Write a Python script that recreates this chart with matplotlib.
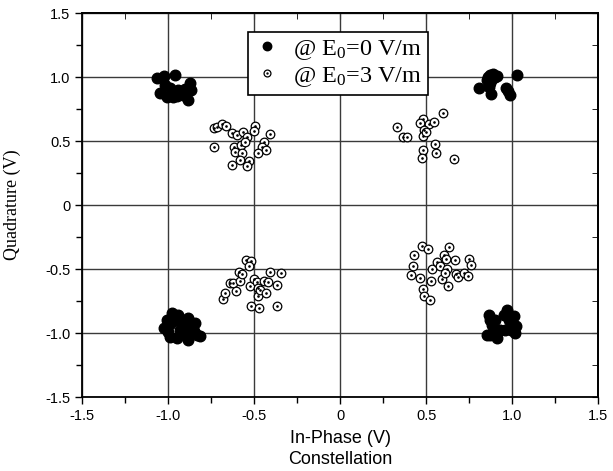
import matplotlib
matplotlib.use("Agg")
import matplotlib.pyplot as plt
from matplotlib.ticker import MultipleLocator, FuncFormatter
from matplotlib.legend_handler import HandlerTuple

plt.rcParams['axes.unicode_minus'] = False
plt.rcParams['mathtext.fontset'] = 'custom'
plt.rcParams['mathtext.rm'] = 'Liberation Serif'
plt.rcParams['mathtext.default'] = 'regular'

# E0 = 0 V/m (filled)
e0_x = [-1.066, -1.027, -0.959, -0.876, -1.047, -1.008, -0.969, -0.911, -0.882, -0.988,
        -1.017, -0.940, -0.901, -0.950, -0.925, -0.870,
        0.804, 0.853, 0.872, 0.888, 0.911, 0.862, 0.876, 0.965, 0.984, 1.027, 0.901, 0.857, 0.870,
        0.880, 0.975,
        -1.027, -1.008, -0.979, -0.988, -0.959, -0.930, -0.901, -0.882, -0.872, -0.882, -0.843,
        -0.833, -0.814, -0.949, -0.920, -0.862, -0.990, -0.940, -0.900, -0.850, -1.000,
        0.866, 0.872, 0.882, 0.911, 0.930, 0.969, 0.979, 1.008, 1.023, 1.017, 0.959, 0.901,
        0.853, 0.990, 0.870, 0.995, 0.950, 0.890]
e0_y = [0.995, 1.010, 1.017, 0.951, 0.873, 0.848, 0.848, 0.861, 0.822, 0.913,
        0.939, 0.900, 0.905, 0.850, 0.880, 0.900,
        0.914, 0.979, 1.018, 1.026, 1.010, 0.927, 0.870, 0.914, 0.862, 1.020, 1.000, 1.000, 0.955,
        0.985, 0.890,
        -0.961, -0.896, -0.844, -1.027, -0.896, -0.974, -0.922, -0.883, -1.000, -1.052, -0.922,
        -1.013, -1.021, -1.039, -0.948, -0.961, -0.930, -0.860, -1.010, -0.985, -0.990,
        -0.857, -1.013, -0.935, -1.039, -0.974, -0.823, -0.896, -0.870, -0.943, -1.000, -0.974, -0.896,
        -1.013, -0.974, -0.900, -0.920, -0.860, -0.990]

# E0 = 3 V/m (open)
e3_x = [-0.733, -0.717, -0.688, -0.665, -0.630, -0.601, -0.566, -0.543, -0.498, -0.500,
        -0.411, -0.733, -0.620, -0.610, -0.576, -0.552, -0.442, -0.455, -0.432, -0.475,
        -0.572, -0.581, -0.533, -0.630, -0.543,
        0.329, 0.364, 0.388, 0.481, 0.465, 0.514, 0.548, 0.488, 0.484, 0.597, 0.552,
        0.556, 0.479, 0.475, 0.659, 0.500,
        -0.682, -0.669, -0.640, -0.626, -0.607, -0.581, -0.591, -0.572, -0.547, -0.519,
        -0.529, -0.523, -0.504, -0.484, -0.475, -0.479, -0.465, -0.434, -0.442, -0.417,
        -0.407, -0.368, -0.345, -0.517, -0.471, -0.365,
        0.426, 0.423, 0.413, 0.461, 0.475, 0.510, 0.481, 0.488, 0.523, 0.533, 0.529,
        0.562, 0.581, 0.591, 0.601, 0.614, 0.620, 0.626, 0.634, 0.669, 0.672, 0.684,
        0.717, 0.746, 0.760, 0.742, 0.610]
e3_y = [0.602, 0.614, 0.635, 0.622, 0.562, 0.549, 0.575, 0.536, 0.620, 0.580,
        0.557, 0.455, 0.458, 0.419, 0.471, 0.497, 0.497, 0.458, 0.427, 0.411,
        0.411, 0.354, 0.341, 0.315, 0.302,
        0.609, 0.536, 0.536, 0.674, 0.645, 0.635, 0.653, 0.588, 0.541, 0.719, 0.479,
        0.411, 0.427, 0.367, 0.359, 0.575,
        -0.734, -0.683, -0.609, -0.609, -0.675, -0.591, -0.519, -0.537, -0.427, -0.440,
        -0.472, -0.636, -0.578, -0.604, -0.649, -0.714, -0.662, -0.683, -0.591, -0.604,
        -0.519, -0.623, -0.531, -0.787, -0.802, -0.792,
        -0.388, -0.479, -0.545, -0.571, -0.323, -0.344, -0.654, -0.714, -0.745, -0.500, -0.596,
        -0.445, -0.479, -0.578, -0.388, -0.422, -0.500, -0.630, -0.331, -0.427, -0.537, -0.563,
        -0.531, -0.422, -0.466, -0.552, -0.530]

ticks = [-1.5, -1.0, -0.5, 0, 0.5, 1.0, 1.5]


def fmt(v, pos):
    if abs(v) < 1e-9:
        return "0"
    return "%.1f" % v


fig = plt.figure(figsize=(6.13, 4.71), dpi=100)
ax = fig.add_axes([0.134, 0.157, 0.842, 0.815])

ax.grid(True, color='#3a3a3a', linewidth=1.0, zorder=0)
ax.set_axisbelow(True)

h0, = ax.plot(e0_x, e0_y, 'o', color='black', markersize=7.6, ls='none', zorder=3)
h3, = ax.plot(e3_x, e3_y, 'o', mfc='white', mec='black', mew=0.9, markersize=6.2, ls='none', zorder=3)
h3d, = ax.plot(e3_x, e3_y, 'o', color='black', markersize=0.9, ls='none', zorder=4)

ax.set_xlim(-1.5, 1.5)
ax.set_ylim(-1.5, 1.5)
ax.set_xticks(ticks)
ax.set_yticks(ticks)
ax.xaxis.set_major_formatter(FuncFormatter(fmt))
ax.yaxis.set_major_formatter(FuncFormatter(fmt))
ax.xaxis.set_minor_locator(MultipleLocator(0.25))
ax.yaxis.set_minor_locator(MultipleLocator(0.25))
ax.tick_params(which='both', direction='out', top=False, right=False,
               labelsize=10.5, width=1.0, colors='black')
ax.tick_params(which='major', length=5)
ax.tick_params(which='minor', length=4)
for lab in ax.get_xticklabels() + ax.get_yticklabels():
    lab.set_family('Liberation Sans')

# inward minor ticks on top and right
sec_x = ax.secondary_xaxis('top')
sec_x.set_xticks(ticks)
sec_x.xaxis.set_minor_locator(MultipleLocator(0.25))
sec_x.tick_params(which='both', direction='in', labeltop=False, length=4)
sec_y = ax.secondary_yaxis('right')
sec_y.set_yticks(ticks)
sec_y.yaxis.set_minor_locator(MultipleLocator(0.25))
sec_y.tick_params(which='both', direction='in', labelright=False, length=4)

for s in ax.spines.values():
    s.set_linewidth(1.3)
sec_x.spines['top'].set_linewidth(1.3)
sec_y.spines['right'].set_linewidth(1.3)

ax.set_xlabel("In-Phase (V)\nConstellation", family='Liberation Sans', fontsize=13,
              linespacing=1.3, labelpad=5)
ax.set_ylabel("Quadrature (V)", family='Liberation Serif', fontsize=13, labelpad=17)

leg = ax.legend([h0, (h3, h3d)], ["@ E$_0$=0 V/m", "@ E$_0$=3 V/m"],
                handler_map={tuple: HandlerTuple(ndivide=1, pad=0)},
                loc='upper left', bbox_to_anchor=(0.322, 0.952), borderaxespad=0,
                prop={'family': 'Liberation Serif', 'size': 17.5},
                frameon=True, fancybox=False, edgecolor='black', framealpha=1,
                markerscale=0.8, handlelength=1.0, handletextpad=0.6,
                borderpad=0.25, labelspacing=0.12)
leg.get_frame().set_linewidth(1.2)

fig.savefig("out.png", dpi=100)
